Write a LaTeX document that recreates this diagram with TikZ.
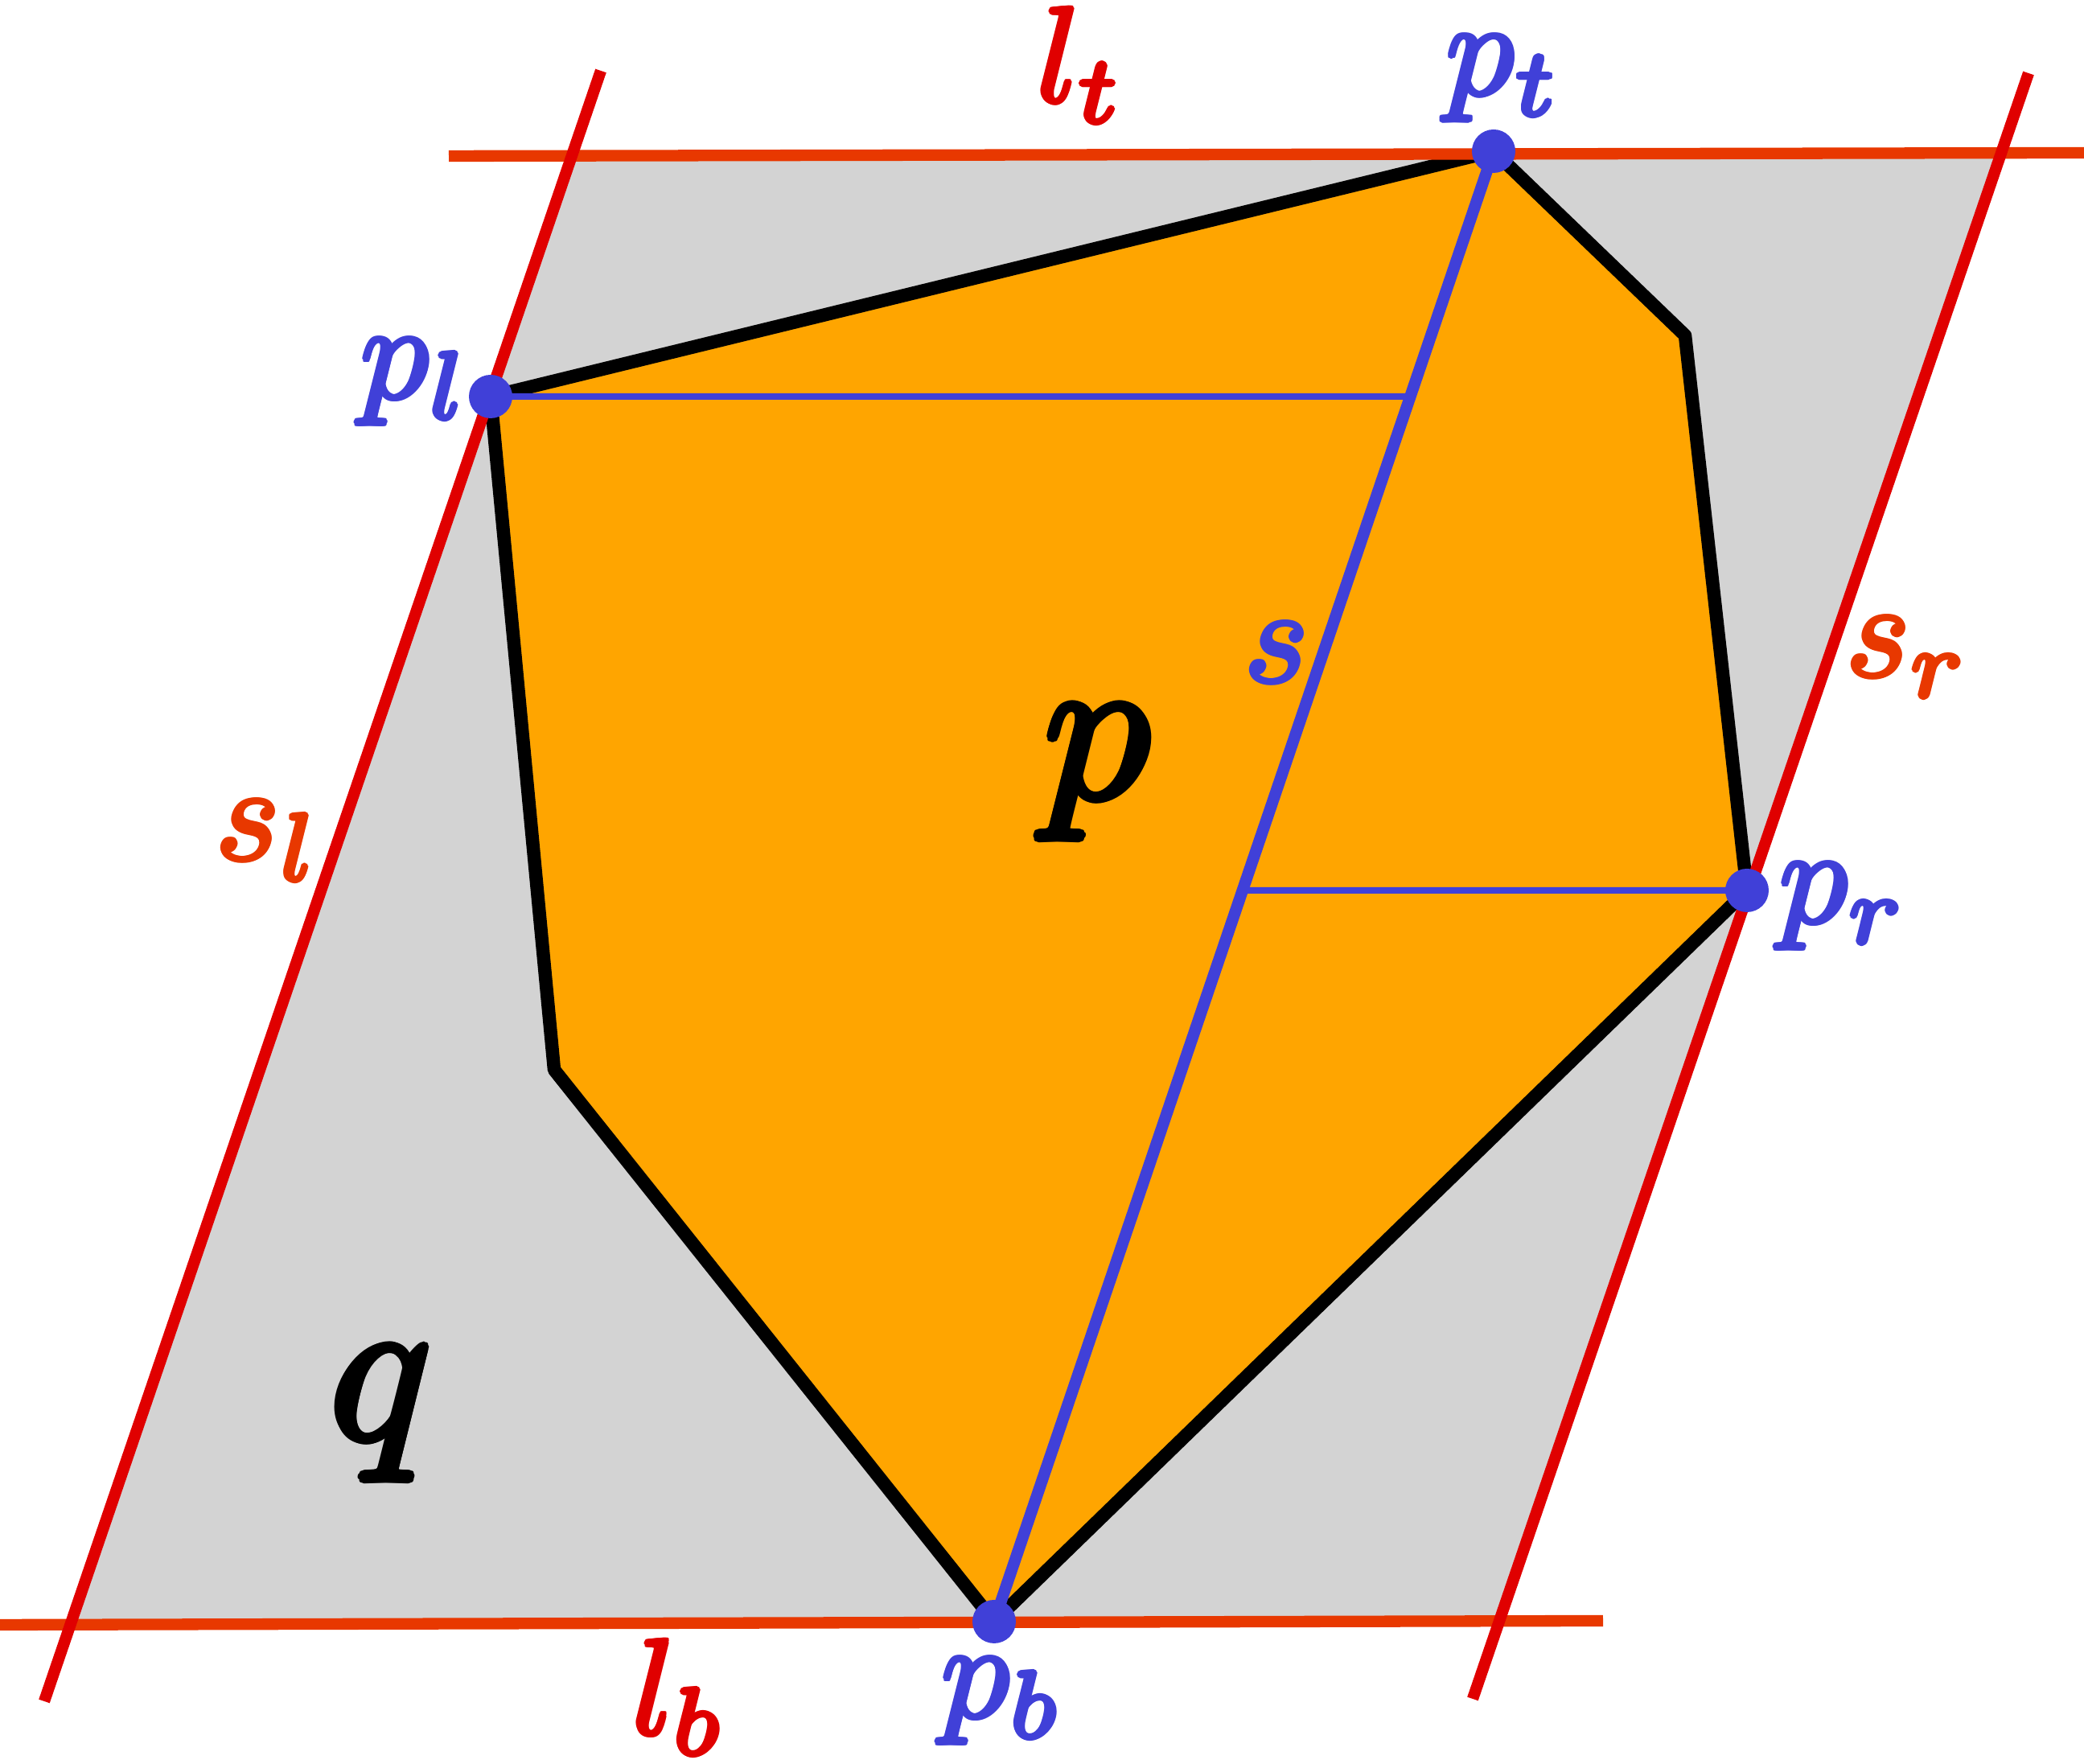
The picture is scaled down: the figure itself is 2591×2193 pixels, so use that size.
\documentclass[tikz,border=0pt]{standalone}
\definecolor{sidered}{RGB}{224,0,0}
\definecolor{toporange}{RGB}{232,56,0}
\definecolor{ptblue}{RGB}{64,64,216}
\definecolor{polyorange}{RGB}{255,165,0}
\definecolor{regiongray}{RGB}{211,211,211}
\scriptspace=0pt
% regular math italic, thickened by overprinting (rounded heavy strokes)
\newcommand{\thk}[1]{\leavevmode
  \rlap{\raisebox{.17pt}{$#1$}}\rlap{\raisebox{-.17pt}{$#1$}}%
  \rlap{\kern.17pt$#1$}\rlap{\kern-.17pt$#1$}%
  \rlap{\kern.12pt\raisebox{.12pt}{$#1$}}\rlap{\kern.12pt\raisebox{-.12pt}{$#1$}}%
  \rlap{\kern-.12pt\raisebox{.12pt}{$#1$}}\rlap{\kern-.12pt\raisebox{-.12pt}{$#1$}}%
  $#1$}
\begin{document}
\begin{tikzpicture}[x=0.1pt,y=-0.1pt,
  lab/.style={inner sep=0pt, anchor=base, scale=1.69},
  biglab/.style={inner sep=0pt, anchor=base, scale=2.64},
  dot/.style={circle, fill=ptblue, inner sep=0pt, minimum size=5.4pt},
  sideline/.style={draw=sidered, line width=1.43pt},
  tbline/.style={draw=toporange, line width=1.43pt},
  polyedge/.style={draw=black, line width=1.65pt, line join=round},
  segs/.style={draw=ptblue, line width=1.45pt},
  segh/.style={draw=ptblue, line width=0.8pt}]
\useasboundingbox (0,0) rectangle (2591,2193);
% key points
\coordinate (pt) at (1857,188);
\coordinate (pl) at (610,493);
\coordinate (pr) at (2172,1107);
\coordinate (pb) at (1236,2016);
\coordinate (v1) at (2095,417);
\coordinate (v2) at (689,1330);
% supporting lines
\coordinate (lt1) at (558,194);
\coordinate (lt2) at (2591,190);
\coordinate (lb1) at (0,2020);
\coordinate (lb2) at (1993,2015);
\coordinate (sl1) at (747,88);
\coordinate (sl2) at (55,2115);
\coordinate (sr1) at (2522,91);
\coordinate (sr2) at (1831,2112);
% region q
\fill[regiongray] (intersection of lt1--lt2 and sl1--sl2) -- (intersection of lt1--lt2 and sr1--sr2)
  -- (intersection of lb1--lb2 and sr1--sr2) -- (intersection of lb1--lb2 and sl1--sl2) -- cycle;
% polygon p
\fill[polyorange] (pt) -- (v1) -- (pr) -- (pb) -- (v2) -- (pl) -- cycle;
\path[polyedge] (pt) -- (v1) -- (pr) -- (pb) -- (v2) -- (pl) -- cycle;
% segment s and horizontals
\path (pl) -- ++(1000,0) coordinate (plx);
\path (pr) -- ++(-1000,0) coordinate (prx);
\coordinate (sh1) at (intersection of pl--plx and pt--pb);
\coordinate (sh2) at (intersection of pr--prx and pt--pb);
\path[segh] (pl) -- (sh1);
\path[segh] (pr) -- (sh2);
\path[segs] (pt) -- (pb);
% supporting lines
\path[tbline] (lt1) -- (lt2);
\path[tbline] (lb1) -- (lb2);
\path[sideline] (sl1) -- (sl2);
\path[sideline] (sr1) -- (sr2);
% points
\node[dot] (Pt) at (pt) {};
\node[dot] (Pl) at (pl) {};
\node[dot] (Pr) at (pr) {};
\node[dot] (Pb) at (pb) {};
% labels
\node[lab, text=sidered] (Llt) at (1340,127) {\thk{l_t}};
\node[lab, text=sidered] (Llb) at (841,2156) {\thk{l_b}};
\node[lab, text=toporange] (Lsl) at (330,1069) {\thk{s_l}};
\node[lab, text=toporange] (Lsr) at (2368,841) {\thk{s_r}};
\node[lab, text=ptblue] (Lpt) at (1866,118) {\thk{p_t}};
\node[lab, text=ptblue] (Lpl) at (513,495) {\thk{p_l}};
\node[lab, text=ptblue] (Lpr) at (2288,1147) {\thk{p_r}};
\node[lab, text=ptblue] (Lpb) at (1243,2135) {\thk{p_b}};
\node[lab, text=ptblue] (Ls) at (1587,848) {\thk{s}};
\node[biglab] (Lp) at (1364,992) {\thk{p}};
\node[biglab] (Lq) at (474,1789) {\thk{q}};
\end{tikzpicture}
\end{document}
